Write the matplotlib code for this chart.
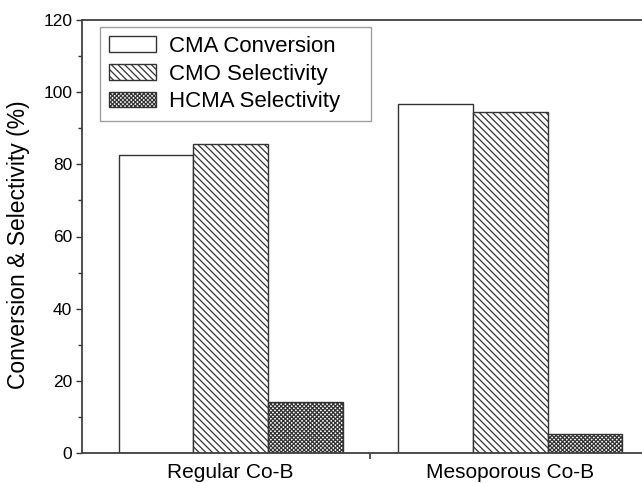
import numpy as np
import matplotlib.pyplot as plt
from matplotlib.ticker import MultipleLocator

plt.rcParams['font.family'] = ['Liberation Sans', 'DejaVu Sans']
plt.rcParams['hatch.linewidth'] = 0.9

catalysts = ['Regular Co-B', 'Mesoporous Co-B']
series = ['CMA Conversion', 'CMO Selectivity', 'HCMA Selectivity']
cma_conversion = [82.5, 96.6]
cmo_selectivity = [85.6, 94.4]
hcma_selectivity = [14.1, 5.3]

values = [cma_conversion, cmo_selectivity, hcma_selectivity]
hatches = ['', '\\\\\\\\\\', 'xxxxxxxx']

fig = plt.figure(figsize=(6.42, 4.83), dpi=100)
ax = fig.add_axes([82 / 642, 30 / 483, 563 / 642, 433 / 483])

x = np.arange(len(catalysts))
w = 0.267
edge = '#333333'
for i, (vals, h) in enumerate(zip(values, hatches)):
    ax.bar(x + (i - 1) * w, vals, w, facecolor='white', edgecolor=edge,
           hatch=h, linewidth=1.0, label=series[i])

ax.set_xlim(-0.532, 1.482)
ax.set_ylim(0, 120)
ax.yaxis.set_major_locator(MultipleLocator(20))
ax.yaxis.set_minor_locator(MultipleLocator(10))
ax.set_xticks(x)
ax.set_xticklabels(catalysts)
ax.set_xticks([0.5], minor=True)
ax.tick_params(axis='x', which='major', length=0, labelsize=15, pad=7.5)
ax.tick_params(axis='x', which='minor', length=4, width=1.2, color='#333333')
ax.tick_params(axis='y', which='major', length=4.5, width=1.0, labelsize=12.5,
               color='#333333', pad=2.5)
ax.tick_params(axis='y', which='minor', length=3, width=1.0, color='#333333')
for side in ['left', 'bottom', 'top', 'right']:
    ax.spines[side].set_linewidth(1.3)
    ax.spines[side].set_color('#404040')

ax.set_ylabel('Conversion & Selectivity (%)', fontsize=16.5)
ax.yaxis.set_label_coords(-52 / 563, 0.48)

# legend box spans a fixed width with the entries left aligned
leg = ax.legend(loc='upper left', mode='expand',
                bbox_to_anchor=(18 / 563, 0, 271 / 563, 426 / 433),
                fontsize=16, frameon=True, fancybox=False, edgecolor='#888888',
                handlelength=2.1, handleheight=0.7, handletextpad=0.6,
                labelspacing=0.3, borderpad=0.4, borderaxespad=0)
leg.get_frame().set_linewidth(1.0)

plt.savefig('out.png', dpi=100)
